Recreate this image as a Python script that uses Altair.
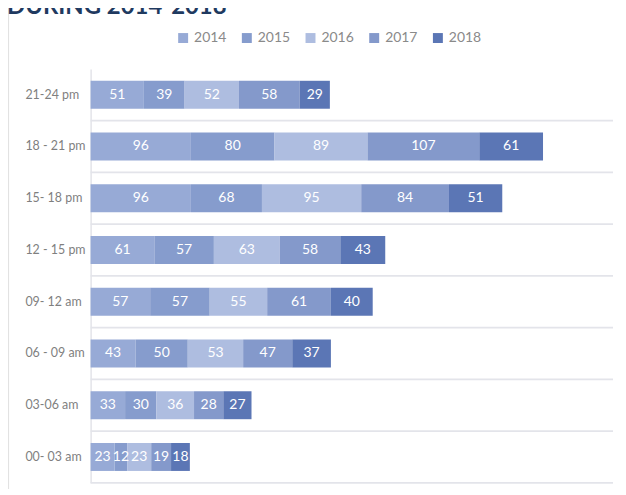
import altair as alt
import pandas as pd

slots = ["21-24 pm", "18 - 21 pm", "15- 18 pm", "12 - 15 pm",
         "09- 12 am", "06 - 09 am", "03-06 am", "00- 03 am"]
years = ["2014", "2015", "2016", "2017", "2018"]
v2014 = [51, 96, 96, 61, 57, 43, 33, 23]
v2015 = [39, 80, 68, 57, 57, 50, 30, 12]
v2016 = [52, 89, 95, 63, 55, 53, 36, 23]
v2017 = [58, 107, 84, 58, 61, 47, 28, 19]
v2018 = [29, 61, 51, 43, 40, 37, 27, 18]
colors = ["#97aad6", "#869ccd", "#aebde0", "#8499cb", "#5b76b5"]
title_text = ["DURING 2014-2018"]

series = [v2014, v2015, v2016, v2017, v2018]
rows = []
for y, vals in zip(years, series):
    for s, v in zip(slots, vals):
        rows.append({"slot": s, "year": y, "value": v})
df = pd.DataFrame(rows)

FONT = "Lato"
W, H = 525, 416

ysc = alt.Scale(domain=slots, paddingInner=0.46, paddingOuter=0.23)
xsc = alt.Scale(domain=[0, 500], nice=False)

base = alt.Chart(df).transform_stack(
    stack="value", groupby=["slot"], as_=["x0", "x1"],
    sort=[alt.SortField("year", order="ascending")]
).transform_calculate(mid="(datum.x0 + datum.x1) / 2")

bars = base.mark_bar().encode(
    y=alt.Y("slot:N", scale=ysc, title=None,
            axis=alt.Axis(labelAlign="left", labelPadding=66, ticks=False,
                          labelColor="#7f7f7f", labelFontSize=12.5, labelFont=FONT,
                          domainColor="#dcdde3", domainWidth=1.2, grid=False)),
    x=alt.X("x0:Q", scale=xsc, axis=None),
    x2="x1:Q",
    color=alt.Color("year:N", scale=alt.Scale(domain=years, range=colors),
                    legend=alt.Legend(orient="none", direction="horizontal",
                                      legendX=86, legendY=-38, title=None,
                                      symbolType="square", symbolSize=100,
                                      symbolStrokeWidth=0, labelFontSize=14,
                                      labelColor="#8a8a8a", labelFont=FONT,
                                      columnPadding=13, labelOffset=4)),
)

labels = base.mark_text(color="white", fontSize=14, font=FONT).encode(
    y=alt.Y("slot:N", scale=ysc),
    x=alt.X("mid:Q", scale=xsc),
    text="value:Q",
)

grid = alt.Chart(pd.DataFrame({"slot": slots})).mark_rule(
    color="#e3e4ea", strokeWidth=1.6, yOffset=26
).encode(
    y=alt.Y("slot:N", scale=ysc),
    x=alt.value(0), x2=alt.value(W),
)

border = alt.Chart(pd.DataFrame({"t": title_text})).mark_rule(
    color="#e2e2e2", strokeWidth=1.2
).encode(x=alt.value(-82.5), y=alt.value(-62), y2=alt.value(440))

title = alt.Chart(pd.DataFrame({"t": title_text})).mark_text(
    align="left", baseline="alphabetic", fontSize=24, fontWeight="bold",
    font=FONT, color="#1f3a60"
).encode(x=alt.value(-84), y=alt.value(-55), text="t:N")

chart = alt.layer(grid, bars, labels, border, title).properties(
    width=W, height=H,
    autosize=alt.AutoSizeParams(type="none"),
    padding={"left": 83, "top": 60, "right": 5, "bottom": 5},
).configure_view(stroke=None)

chart.save("out.html", embed_options={"renderer": "svg", "actions": False})
